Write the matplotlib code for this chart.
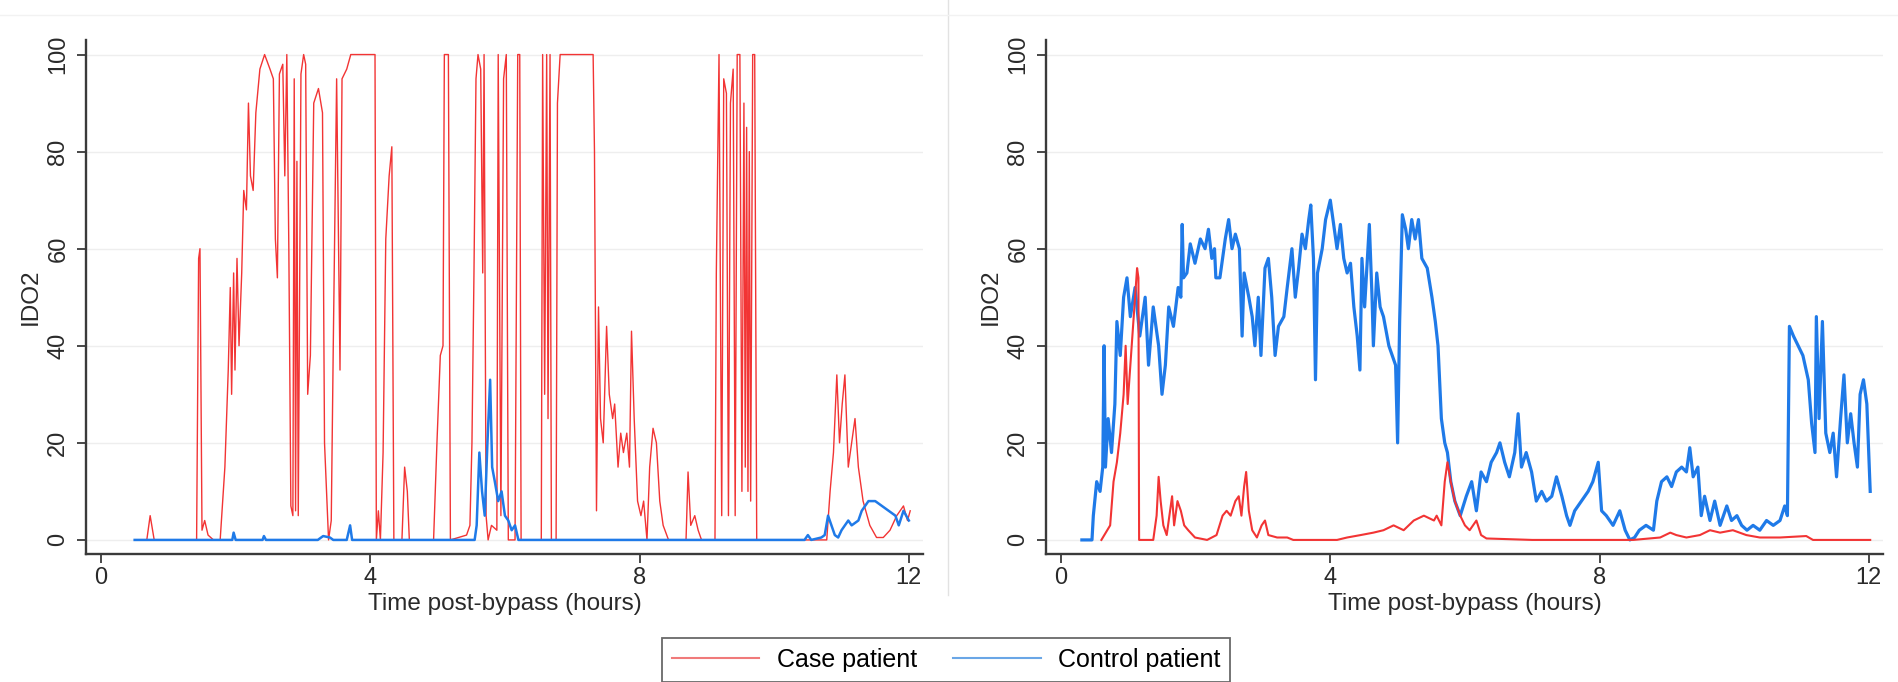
import matplotlib
matplotlib.use("Agg")
import matplotlib.pyplot as plt
from matplotlib.lines import Line2D

plt.rcParams['font.family'] = ['Liberation Sans', 'DejaVu Sans']

# ---- data (hours, IDO2) ----
left_case_t = [0.50, 0.68, 0.73, 0.79, 1.42, 1.45, 1.47, 1.49, 1.50, 1.54, 1.59, 1.67, 1.77, 1.84, 1.89,
               1.92, 1.94, 1.97, 1.99, 2.02, 2.05, 2.09, 2.12, 2.16, 2.19, 2.22, 2.26, 2.30, 2.36, 2.43,
               2.51, 2.56, 2.59, 2.62, 2.65, 2.70, 2.73, 2.76, 2.79, 2.82, 2.85, 2.87, 2.89, 2.91, 2.93,
               2.97, 3.01, 3.04, 3.07, 3.11, 3.16, 3.23, 3.29, 3.32, 3.38, 3.42, 3.45, 3.50, 3.53, 3.55,
               3.58, 3.65, 3.71, 4.07, 4.09, 4.12, 4.15, 4.19, 4.23, 4.28, 4.32, 4.35, 4.47, 4.51, 4.55,
               4.58, 4.94, 4.99, 5.04, 5.08, 5.10, 5.16, 5.19, 5.43, 5.48, 5.51, 5.54, 5.57, 5.60, 5.64,
               5.67, 5.69, 5.72, 5.75, 5.80, 5.88, 5.90, 5.94, 5.98, 6.02, 6.05, 6.15, 6.19, 6.22, 6.24,
               6.54, 6.56, 6.59, 6.62, 6.64, 6.67, 6.69, 6.76, 6.78, 6.82, 7.31, 7.33, 7.36, 7.39, 7.42,
               7.46, 7.51, 7.55, 7.60, 7.63, 7.68, 7.72, 7.76, 7.81, 7.85, 7.88, 7.92, 7.97, 8.02, 8.06,
               8.11, 8.15, 8.20, 8.25, 8.30, 8.35, 8.43, 8.69, 8.72, 8.76, 8.82, 8.87, 8.92, 9.12, 9.14,
               9.18, 9.22, 9.25, 9.29, 9.32, 9.35, 9.39, 9.42, 9.45, 9.49, 9.52, 9.55, 9.57, 9.59, 9.61,
               9.63, 9.65, 9.68, 9.71, 9.74, 10.78, 10.83, 10.88, 10.93, 10.97, 11.01, 11.05, 11.10, 11.15, 11.20,
               11.25, 11.32, 11.42, 11.52, 11.62, 11.72, 11.82, 11.92, 11.98, 12.02]
left_case_v = [0, 0, 5, 0, 0, 58, 60, 20, 2, 4, 1, 0, 0, 15, 35,
               52, 30, 55, 35, 58, 40, 55, 72, 68, 90, 75, 72, 88, 97, 100,
               97, 95, 62, 54, 96, 98, 75, 100, 60, 7, 5, 95, 6, 78, 5,
               96, 100, 98, 30, 38, 90, 93, 88, 20, 0, 4, 40, 95, 60, 35,
               95, 97, 100, 100, 0, 6, 0, 18, 62, 75, 81, 0, 0, 15, 10,
               0, 0, 20, 38, 40, 100, 100, 0, 1, 3, 20, 55, 95, 100, 97,
               55, 100, 5, 0, 3, 2, 100, 5, 95, 100, 0, 0, 100, 100, 0,
               0, 100, 30, 100, 25, 100, 0, 0, 90, 100, 100, 80, 6, 48, 25,
               20, 44, 30, 25, 28, 15, 22, 18, 22, 15, 43, 25, 8, 5, 8,
               0, 15, 23, 20, 8, 3, 0, 0, 14, 3, 5, 2, 0, 0, 55,
               100, 5, 95, 92, 5, 90, 97, 5, 100, 100, 10, 90, 15, 85, 10,
               80, 8, 100, 100, 0, 0, 10, 18, 34, 20, 28, 34, 15, 20, 25,
               15, 8, 3, 0.5, 0.5, 2, 5, 7, 4, 6]

left_ctrl_t = [0.50, 1.95, 1.97, 2.00, 2.40, 2.42, 2.45, 3.22, 3.30, 3.40, 3.45, 3.65, 3.70, 3.73,
               5.55, 5.58, 5.62, 5.66, 5.70, 5.74, 5.78, 5.81, 5.85, 5.90, 5.95, 6.00, 6.05, 6.10,
               6.15, 6.20, 10.45, 10.50, 10.55, 10.70, 10.75, 10.80, 10.85, 10.90, 10.95, 11.00, 11.10,
               11.15, 11.25, 11.30, 11.40, 11.50, 11.60, 11.70, 11.80, 11.85, 11.92, 12.00]
left_ctrl_v = [0, 0, 1.5, 0, 0, 0.8, 0, 0, 0.8, 0.5, 0, 0, 3, 0,
               0, 3, 18, 10, 5, 20, 33, 15, 12, 8, 10, 5, 4, 2,
               3, 0, 0, 1, 0, 0.5, 1, 5, 3, 1, 0.5, 2, 4,
               3, 4, 6, 8, 8, 7, 6, 5, 3, 6, 4]

right_case_t = [0.60, 0.73, 0.78, 0.83, 0.88, 0.93, 0.96, 0.99, 1.04, 1.09, 1.13, 1.15, 1.16, 1.37,
                1.42, 1.45, 1.48, 1.52, 1.57, 1.65, 1.68, 1.73, 1.78, 1.83, 1.89, 1.99, 2.17, 2.31,
                2.40, 2.46, 2.52, 2.59, 2.64, 2.68, 2.72, 2.75, 2.79, 2.84, 2.91, 2.98, 3.03, 3.08,
                3.21, 3.36, 3.45, 4.10, 4.25, 4.45, 4.64, 4.79, 4.94, 5.09, 5.24, 5.39, 5.54, 5.58,
                5.65, 5.70, 5.74, 5.79, 5.85, 5.93, 6.00, 6.07, 6.17, 6.24, 6.32, 7.00, 8.50, 8.90,
                9.05, 9.14, 9.29, 9.49, 9.64, 9.79, 9.98, 10.18, 10.38, 10.68, 11.07, 11.17, 12.02]
right_case_v = [0, 3, 12, 16, 22, 30, 40, 28, 38, 48, 56, 54, 0, 0,
                5, 13, 8, 3, 1, 9, 3, 8, 6, 3, 2, 0.5, 0, 1,
                5, 6, 5, 8, 9, 5, 11, 14, 6, 2, 0.5, 3, 4, 1,
                0.5, 0.5, 0, 0, 0.5, 1, 1.5, 2, 3, 2, 4, 5, 4, 5,
                3, 12, 16, 12, 8, 5, 3, 2, 4, 1, 0.3, 0, 0, 0.5,
                1.5, 1, 0.5, 1, 2, 1.5, 2, 1, 0.5, 0.5, 0.8, 0, 0]

right_ctrl_t = [0.31, 0.46, 0.48, 0.53, 0.58, 0.62, 0.64, 0.66, 0.70, 0.75, 0.80, 0.83, 0.88, 0.93,
                0.98, 1.03, 1.10, 1.17, 1.25, 1.30, 1.37, 1.45, 1.50, 1.55, 1.60, 1.67, 1.74, 1.78,
                1.80, 1.82, 1.87, 1.92, 1.99, 2.07, 2.14, 2.19, 2.24, 2.28, 2.30, 2.36, 2.44, 2.49,
                2.54, 2.59, 2.65, 2.69, 2.72, 2.79, 2.84, 2.88, 2.93, 2.97, 3.03, 3.08, 3.13, 3.18,
                3.23, 3.31, 3.36, 3.43, 3.48, 3.53, 3.58, 3.63, 3.68, 3.71, 3.75, 3.78, 3.81, 3.88,
                3.93, 4.00, 4.05, 4.10, 4.15, 4.20, 4.25, 4.30, 4.35, 4.40, 4.44, 4.47, 4.51, 4.56,
                4.58, 4.62, 4.64, 4.69, 4.74, 4.79, 4.87, 4.92, 4.97, 5.00, 5.03, 5.07, 5.12, 5.16,
                5.21, 5.26, 5.31, 5.36, 5.44, 5.51, 5.56, 5.60, 5.65, 5.70, 5.74, 5.79, 5.85, 5.93,
                6.02, 6.10, 6.17, 6.24, 6.32, 6.39, 6.47, 6.52, 6.59, 6.66, 6.74, 6.79, 6.84, 6.91,
                6.99, 7.06, 7.14, 7.21, 7.29, 7.36, 7.44, 7.51, 7.56, 7.63, 7.73, 7.83, 7.90, 7.98,
                8.03, 8.10, 8.20, 8.30, 8.38, 8.45, 8.52, 8.59, 8.69, 8.80, 8.85, 8.92, 9.00, 9.07,
                9.14, 9.22, 9.29, 9.34, 9.39, 9.46, 9.51, 9.56, 9.64, 9.71, 9.79, 9.89, 9.96, 10.04,
                10.11, 10.19, 10.28, 10.38, 10.48, 10.58, 10.68, 10.75, 10.79, 10.82, 10.88, 10.95, 11.02, 11.10,
                11.15, 11.20, 11.22, 11.26, 11.31, 11.36, 11.42, 11.47, 11.52, 11.58, 11.63, 11.68, 11.73, 11.78,
                11.83, 11.87, 11.92, 11.97, 12.02]
right_ctrl_v = [0, 0, 5, 12, 10, 15, 40, 15, 25, 18, 28, 45, 38, 50,
                54, 46, 52, 42, 50, 36, 48, 40, 30, 36, 48, 44, 52, 50,
                65, 54, 55, 61, 57, 62, 60, 64, 58, 60, 54, 54, 62, 66,
                60, 63, 60, 42, 55, 50, 46, 40, 50, 38, 56, 58, 50, 38,
                44, 46, 52, 60, 50, 56, 63, 60, 66, 69, 58, 33, 55, 60,
                66, 70, 65, 60, 65, 58, 55, 57, 48, 42, 35, 58, 48, 60,
                65, 50, 40, 55, 48, 46, 40, 38, 36, 20, 45, 67, 64, 60,
                66, 62, 66, 58, 56, 50, 45, 40, 25, 20, 18, 12, 8, 5,
                9, 12, 6, 14, 12, 16, 18, 20, 16, 13, 18, 26, 15, 18,
                14, 8, 10, 8, 9, 13, 9, 5, 3, 6, 8, 10, 12, 16,
                6, 5, 3, 6, 2, 0, 0.5, 2, 3, 2, 8, 12, 13, 11,
                14, 15, 14, 19, 13, 15, 5, 9, 4, 8, 3, 7, 4, 5,
                3, 2, 3, 2, 4, 3, 4, 7, 5, 44, 42, 40, 38, 33,
                24, 18, 46, 25, 45, 22, 18, 22, 13, 25, 34, 20, 26, 20,
                15, 30, 33, 28, 10]

x_ticks = [0, 4, 8, 12]
y_ticks = [0, 20, 40, 60, 80, 100]
x_title = "Time post-bypass (hours)"
y_title = "IDO2"
series_names = ["Case patient", "Control patient"]

red = '#f23434'
blue = '#1f7ae8'

W, H = 1898, 682
fig = plt.figure(figsize=(W / 100, H / 100), dpi=100)
fig.patch.set_facecolor('white')

# faint region outlines of the combined graph
fig.add_artist(Line2D([948 / W, 948 / W], [1 - 595 / H, 1.0], color='#e2e2e2', lw=1))
fig.add_artist(Line2D([0, 1], [1 - 15 / H, 1 - 15 / H], color='#f2f2f2', lw=1))

AX_TOP, AX_BOT = 39.5, 554


def setup_axes(left_px):
    ax = fig.add_axes([left_px / W, 1 - AX_BOT / H, 837 / W, (AX_BOT - AX_TOP) / H])
    ax.set_xlim(-0.223, 12.21)
    ax.set_ylim(-2.9, 103.1)
    for s in ['top', 'right']:
        ax.spines[s].set_visible(False)
    for s in ['left', 'bottom']:
        ax.spines[s].set_color('#3a3a3a')
        ax.spines[s].set_linewidth(1.7)
    ax.set_xticks(x_ticks)
    ax.set_yticks(y_ticks)
    ax.tick_params(axis='both', colors='#3a3a3a', length=6.5, width=1.3, labelsize=17,
                   labelcolor='#2a2a2a')
    ax.tick_params(axis='x', pad=2.5)
    ax.tick_params(axis='y', pad=5.5)
    for lbl in ax.get_yticklabels():
        lbl.set_rotation(90)
        lbl.set_va('center')
    ax.yaxis.grid(True, color='#eeeeee', lw=1)
    ax.set_axisbelow(True)
    ax.set_xlabel(x_title, fontsize=17.5, color='#2a2a2a', va='top')
    ax.xaxis.set_label_coords(0.5, -0.0765)
    ax.set_ylabel(y_title, fontsize=17.5, color='#2a2a2a')
    ax.yaxis.set_label_coords(-0.053, 0.5)
    return ax


ax1 = setup_axes(86)
ax1.plot(left_case_t, left_case_v, color=red, lw=1.0)
ax1.plot(left_ctrl_t, left_ctrl_v, color=blue, lw=1.8)

ax2 = setup_axes(1046)
ax2.plot(right_ctrl_t, right_ctrl_v, color=blue, lw=2.3)
ax2.plot(right_case_t, right_case_v, color=red, lw=1.5)

handles = [Line2D([], [], color='#f07a7a', lw=1.5), Line2D([], [], color='#6aa6e6', lw=1.5)]
leg = fig.legend(handles, series_names, loc='center', bbox_to_anchor=(946 / W, 1 - 660 / H), ncol=2,
                 fontsize=18, frameon=True, fancybox=False, edgecolor='#444444',
                 handlelength=3.5, handletextpad=0.7, columnspacing=1.45,
                 borderpad=0.4, borderaxespad=0)
leg.get_frame().set_linewidth(1.3)

fig.savefig('out.png', dpi=100, facecolor='white')
